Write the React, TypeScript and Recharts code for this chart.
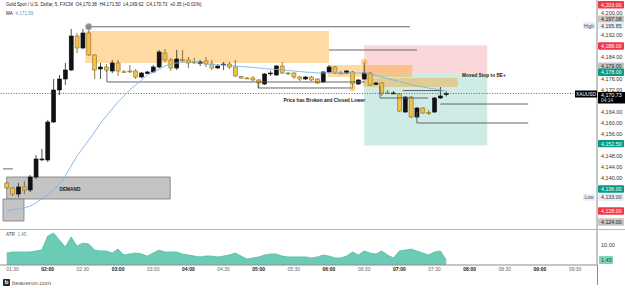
import React from 'react';
import {
  ComposedChart, AreaChart, Bar, Line, Area, XAxis, YAxis,
  ReferenceArea, ReferenceLine, ReferenceDot,
} from 'recharts';

// ---------- data ----------
const timeTicks = [1, 7, 13, 19, 25, 31, 37, 43, 49, 55, 61, 67, 73, 79, 85, 91, 97];
const timeLabels = ['01:30', '02:00', '02:30', '03:00', '03:30', '04:00', '04:30', '05:00', '05:30',
  '06:00', '06:30', '07:00', '07:30', '08:00', '08:30', '09:00', '09:30'];

const opens = [
  4138.18, 4136.36, 4134.18, 4136.73, 4135.64, 4140.36, 4146.6, 4146.55, 4160.36, 4172.0,
  4176.0, 4179.27, 4191.64, 4187.27, 4192.73, 4184.73, 4179.64, 4180.36, 4178.91, 4181.82,
  4178.62, 4178.91, 4178.91, 4176.73, 4178.0, 4178.55, 4180.36, 4185.45, 4182.91, 4180.0,
  4183.1, 4182.91, 4182.18, 4181.64, 4182.55, 4181.45, 4180.0, 4181.27, 4181.45, 4180.36,
  4176.84, 4176.36, 4176.36, 4175.64, 4174.18, 4178.0, 4177.45, 4180.73, 4178.18, 4178.18,
  4176.73, 4176.0, 4176.73, 4176.0, 4174.91, 4178.55, 4180.36, 4178.18, 4178.18, 4178.55,
  4174.18, 4176.0, 4178.18, 4174.07, 4174.55, 4170.98, 4170.84, 4170.55, 4164.0, 4169.45,
  4162.18, 4165.45, 4163.82, 4164.0, 4169.09, 4170.38,
];
const highs = [
  4138.55, 4136.73, 4138.18, 4138.91, 4141.09, 4148.36, 4150.55, 4161.09, 4176.0, 4177.45,
  4181.82, 4194.18, 4192.73, 4194.18, 4195.85, 4185.09, 4181.82, 4181.45, 4182.91, 4182.91,
  4179.27, 4181.09, 4179.64, 4178.55, 4178.91, 4181.09, 4186.55, 4186.91, 4183.64, 4186.55,
  4186.55, 4184.0, 4183.64, 4182.91, 4184.0, 4182.91, 4181.45, 4182.18, 4182.18, 4182.91,
  4177.09, 4176.73, 4177.09, 4176.0, 4178.18, 4178.91, 4181.09, 4182.18, 4178.55, 4178.55,
  4177.09, 4177.09, 4177.09, 4176.36, 4178.91, 4181.09, 4180.73, 4178.91, 4179.27, 4178.91,
  4176.0, 4182.18, 4178.55, 4174.91, 4174.91, 4172.0, 4171.64, 4170.91, 4169.82, 4169.82,
  4165.82, 4165.82, 4164.73, 4169.45, 4173.09, 4171.5,
];
const lows = [
  4136.0, 4133.45, 4133.0, 4134.18, 4134.91, 4139.64, 4146.18, 4145.82, 4160.0, 4170.18,
  4173.82, 4178.91, 4185.45, 4186.91, 4184.36, 4176.0, 4176.0, 4178.55, 4178.18, 4177.09,
  4178.18, 4178.18, 4176.0, 4176.36, 4177.82, 4178.18, 4180.0, 4182.18, 4178.91, 4179.27,
  4182.18, 4180.0, 4181.45, 4180.73, 4180.36, 4179.27, 4179.64, 4179.27, 4179.64, 4176.73,
  4176.0, 4176.0, 4175.27, 4172.73, 4173.82, 4177.09, 4177.09, 4177.82, 4177.45, 4176.0,
  4175.27, 4175.64, 4175.27, 4174.18, 4174.55, 4178.18, 4177.82, 4177.82, 4177.82, 4172.73,
  4173.82, 4175.64, 4173.45, 4173.82, 4169.82, 4170.55, 4170.55, 4164.0, 4163.64, 4161.82,
  4161.82, 4163.27, 4162.91, 4163.64, 4168.73, 4169.62,
];
const closes = [
  4136.36, 4134.18, 4136.73, 4135.64, 4140.36, 4146.91, 4146.91, 4160.36, 4172.0, 4176.0,
  4179.27, 4191.64, 4187.27, 4192.73, 4184.73, 4179.27, 4180.36, 4179.27, 4181.82, 4178.91,
  4178.47, 4178.8, 4176.73, 4178.18, 4178.55, 4180.36, 4185.82, 4182.91, 4180.0, 4183.27,
  4182.91, 4181.82, 4182.07, 4182.18, 4181.45, 4180.0, 4180.73, 4181.45, 4180.36, 4177.09,
  4176.36, 4176.25, 4175.64, 4174.55, 4177.82, 4178.18, 4180.73, 4178.18, 4178.04, 4176.73,
  4176.0, 4176.73, 4175.64, 4174.55, 4178.55, 4180.36, 4178.18, 4178.04, 4178.91, 4174.18,
  4175.64, 4178.18, 4173.82, 4174.55, 4170.91, 4170.84, 4170.91, 4164.36, 4169.45, 4162.18,
  4165.45, 4163.64, 4163.71, 4169.09, 4169.82, 4170.73,
];
const maValues = [
  4128.0, 4128.4, 4128.7, 4129.1, 4129.8, 4130.9, 4132.4, 4133.8, 4135.6, 4137.8,
  4140.7, 4144.4, 4148.0, 4150.9, 4153.8, 4156.7, 4160.0, 4162.5, 4165.1, 4167.6,
  4169.8, 4172.0, 4173.8, 4175.6, 4177.5, 4178.5, 4179.6, 4180.7, 4181.5, 4181.8,
  4182.2, 4182.2, 4182.2, 4181.8, 4181.5, 4181.3, 4181.1, 4181.1, 4180.9, 4180.7,
  4180.5, 4180.4, 4180.2, 4180.0, 4179.8, 4179.6, 4179.5, 4179.3, 4179.1, 4178.9,
  4178.7, 4178.5, 4178.4, 4178.2, 4178.2, 4178.2, 4178.2, 4178.2, 4178.2, 4178.2,
  4178.2, 4178.2, 4177.8, 4177.3, 4176.7, 4176.2, 4175.6, 4175.1, 4174.5, 4174.0,
  4173.5, 4173.1, 4172.7, 4172.4, 4172.0, 4171.59,
];
const atrValues = [
  5.4, 6.0, 6.0, 6.0, 6.0, 6.6, 7.1, 15.1, 16.8, 12.8,
  8.9, 14.6, 9.4, 11.1, 10.6, 7.1, 6.6, 6.6, 5.4, 7.7,
  4.3, 4.9, 5.4, 4.9, 3.7, 5.4, 7.1, 6.0, 6.0, 6.0,
  4.9, 4.3, 3.7, 3.2, 3.7, 3.7, 3.2, 3.7, 4.3, 5.4,
  3.7, 2.0, 2.6, 3.2, 4.3, 4.9, 4.9, 3.7, 3.2, 3.2,
  3.2, 3.2, 2.6, 3.2, 4.3, 3.7, 2.6, 2.6, 3.7, 6.0,
  4.3, 6.6, 5.4, 4.9, 6.6, 4.3, 2.6, 6.6, 7.1, 7.7,
  6.6, 5.4, 4.3, 6.0, 6.6, 1.45,
];

const priceTicks = [4200, 4192, 4184, 4176, 4172, 4164, 4160, 4156, 4148, 4144, 4140];
const priceBadges = [
  { value: 4203, kind: 'red' }, { value: 4197.08, kind: 'grey' }, { value: 4195.85, kind: 'high' },
  { value: 4188, kind: 'red' }, { value: 4179, kind: 'grey' }, { value: 4178, kind: 'green' },
  { value: 4152.5, kind: 'green' }, { value: 4136, kind: 'green' }, { value: 4133, kind: 'low' },
  { value: 4128, kind: 'red' }, { value: 4124, kind: 'grey' }, { value: 4170.73, kind: 'last' },
];
const atrTicks = [10];
const atrLast = 1.45;

// zones: x in bar index, y in price
const zones = [
  { x1: 13.4, x2: 55, y1: 4181.8, y2: 4193.45, kind: 'orange' },
  { x1: 61, x2: 82, y1: 4178, y2: 4188.3, kind: 'stop' },
  { x1: 61, x2: 82, y1: 4151.8, y2: 4178, kind: 'target' },
  { x1: 54.8, x2: 69.2, y1: 4176.73, y2: 4181.09, kind: 'orange' },
  { x1: 60.8, x2: 77, y1: 4173.09, y2: 4176.36, kind: 'orange' },
  { x1: 0, x2: 27.9, y1: 4132.36, y2: 4140.36, kind: 'demand' },
  { x1: -0.63, x2: 2.95, y1: 4124.36, y2: 4132.36, kind: 'demand' },
];
const segments = [
  { x1: 14, y1: 4195.0, x2: 68.8, y2: 4195.0 },
  { x1: 55, y1: 4186.55, x2: 70, y2: 4186.55 },
  { x1: 17.1, y1: 4179.3, x2: 17.1, y2: 4174.91 },
  { x1: 17.1, y1: 4174.91, x2: 61.1, y2: 4174.91 },
  { x1: 42.9, y1: 4174.5, x2: 42.9, y2: 4172.73 },
  { x1: 42.9, y1: 4172.73, x2: 59.1, y2: 4172.73 },
  { x1: 63.7, y1: 4173.45, x2: 63.7, y2: 4169.09 },
  { x1: 63.7, y1: 4169.09, x2: 71.9, y2: 4169.09 },
  { x1: 67.6, y1: 4171.8, x2: 74.5, y2: 4171.8 },
  { x1: 74, y1: 4166.9, x2: 89, y2: 4166.9 },
  { x1: 70, y1: 4164, x2: 70, y2: 4160.0 },
  { x1: 70, y1: 4160.0, x2: 89, y2: 4160.0 },
  { x1: -0.63, y1: 4143.3, x2: 1.07, y2: 4143.3 },
];
const markers = [
  { x: 14, y: 4195.0, kind: 'grey' },
  { x: 59, y: 4172.73, kind: 'orange' },
  { x: 61, y: 4182.18, kind: 'orange' },
];
const notes = [
  { x: 10.8, y: 4136.0, text: 'DEMAND', anchor: 'middle' },
  { x: 54.2, y: 4168.2, text: 'Price has Broken and Closed Lower', anchor: 'middle' },
  { x: 77.7, y: 4177.4, text: 'Moved Stop to BE+', anchor: 'start' },
];
const lastPrice = 4170.73;

// ---------- styles ----------
const FONT = '"Liberation Sans", Arial, sans-serif';
const X_DOMAIN: [number, number] = [-1.14, 100.73];
const Y_DOMAIN: [number, number] = [4121.45, 4204.73];
const ATR_DOMAIN: [number, number] = [-1.4, 19.12];
const UP = '#111111';
const DOWN = '#f4c04c';
const DOWN_EDGE = '#8f7320';
const zoneStyle: Record<string, any> = {
  orange: { fill: '#ff9800', fillOpacity: 0.36, stroke: 'none' },
  stop: { fill: '#f23645', fillOpacity: 0.2, stroke: 'none' },
  target: { fill: '#089981', fillOpacity: 0.2, stroke: 'none' },
  demand: { fill: '#c4c4c4', fillOpacity: 1, stroke: '#7a7a7a', strokeWidth: 0.8 },
};
const badgeStyle: Record<string, { bg: string; fg: string }> = {
  red: { bg: '#f23645', fg: '#ffffff' },
  grey: { bg: '#c6c6c6', fg: '#222222' },
  green: { bg: '#089981', fg: '#ffffff' },
  high: { bg: '#e8eef7', fg: '#333333' },
  low: { bg: '#e8eef7', fg: '#333333' },
  last: { bg: '#000000', fg: '#ffffff' },
};
const badgeShift: Record<string, number> = { '4179': -4.5, '4178': -1.2, '4197.08': -1.8, '4195.85': 1.2 };

const rows = opens.map((o, i) => ({
  i, open: o, high: highs[i], low: lows[i], close: closes[i], ma: maValues[i], atr: atrValues[i],
}));

const fmt = (v: number) => v.toLocaleString('en-US', { minimumFractionDigits: 2, maximumFractionDigits: 2 });

const Candle = (props: any) => {
  const { x, y, width, height, payload } = props;
  if (!payload || height == null) return null;
  const { open, close, high, low } = payload;
  const up = close >= open;
  const ppu = height / (high - low);
  const top = y + (high - Math.max(open, close)) * ppu;
  const h = Math.max(0.9, Math.abs(open - close) * ppu);
  const cx = x + width / 2;
  return (
    <g>
      <line x1={cx} x2={cx} y1={y} y2={y + height} stroke={up ? '#222' : '#6d5a1e'} strokeWidth={0.8} />
      <rect x={x} y={top} width={width} height={h} fill={up ? UP : DOWN}
        stroke={up ? UP : DOWN_EDGE} strokeWidth={0.6} />
    </g>
  );
};

const badgeMap = new Map(priceBadges.map((b) => [b.value, b.kind]));

const PriceTick = (props: any) => {
  const { x, y, payload } = props;
  const v = payload.value as number;
  const kind = badgeMap.get(v);
  if (!kind) {
    return <text x={x + 4} y={y} dy={2} fontSize={5.5} fill="#333" fontFamily={FONT}>{fmt(v)}</text>;
  }
  const s = badgeStyle[kind];
  const yy = y + (badgeShift[String(v)] || 0);
  if (kind === 'last') {
    return (
      <g>
        <rect x={x - 22} y={yy - 3} width={22} height={7} fill="#000" />
        <text x={x - 11} y={yy + 0.5} dy={2} fontSize={4.8} fill="#fff" textAnchor="middle" fontFamily={FONT}>XAUUSD</text>
        <rect x={x + 1} y={yy - 1.5} width={27} height={11.5} fill="#000" />
        <text x={x + 4} y={yy + 1.8} dy={1.8} fontSize={5.3} fill="#fff" fontFamily={FONT}>{fmt(v)}</text>
        <text x={x + 4} y={yy + 6.6} dy={1.6} fontSize={4.8} fill="#ddd" fontFamily={FONT}>04:14</text>
      </g>
    );
  }
  return (
    <g>
      {(kind === 'high' || kind === 'low') && (
        <g>
          <rect x={x - 14} y={yy - 3.5} width={12} height={7} fill={s.bg} rx={1} />
          <text x={x - 8} y={yy} dy={2} fontSize={5} fill="#456" textAnchor="middle" fontFamily={FONT}>
            {kind === 'high' ? 'High' : 'Low'}
          </text>
        </g>
      )}
      <rect x={x + 1} y={yy - 3.7} width={26} height={7.4} fill={s.bg} rx={1} />
      <text x={x + 4} y={yy} dy={2} fontSize={5.3} fill={s.fg} fontFamily={FONT}>{fmt(v)}</text>
    </g>
  );
};

const AtrTick = (props: any) => {
  const { x, y, payload } = props;
  const v = payload.value as number;
  if (v === atrLast) {
    return (
      <g>
        <rect x={x + 2} y={y - 4} width={14} height={8} fill="#7fd3bf" rx={1} />
        <text x={x + 4} y={y} dy={2} fontSize={5.5} fill="#1c4a3f" fontFamily={FONT}>{v.toFixed(2)}</text>
      </g>
    );
  }
  return <text x={x + 4} y={y} dy={2} fontSize={5.5} fill="#333" fontFamily={FONT}>{v.toFixed(2)}</text>;
};

const TimeTick = (props: any) => {
  const { x, y, payload } = props;
  const k = timeTicks.indexOf(payload.value);
  const label = timeLabels[k] ?? '';
  const bold = label.endsWith(':00');
  return (
    <text x={x} y={y + 6} textAnchor="middle" fontSize={5} fontWeight={bold ? 700 : 400}
      fill={bold ? '#222' : '#666'} fontFamily={FONT}>{label}</text>
  );
};

export default function App() {
  return (
    <div style={{ position: 'absolute', left: 0, top: 0, width: 625, height: 288, background: '#fff', fontFamily: FONT }}>
      <div style={{ position: 'absolute', left: 0, top: 0 }}>
        <ComposedChart width={625} height={229} data={rows} margin={{ top: 0, right: 0, bottom: 0, left: 0 }}>
          <XAxis dataKey="i" type="number" domain={X_DOMAIN} hide allowDataOverflow />
          <YAxis orientation="right" width={28} domain={Y_DOMAIN} allowDataOverflow
            ticks={[...priceTicks, ...priceBadges.map((b) => b.value)]} interval={0}
            tick={<PriceTick />} tickSize={0} tickMargin={0} tickLine={false}
            axisLine={{ stroke: '#8c8c8c' }} />
          {zones.map((z, k) => (
            <ReferenceArea key={'z' + k} x1={z.x1} x2={z.x2} y1={z.y1} y2={z.y2} {...zoneStyle[z.kind]} />
          ))}
          <ReferenceLine y={lastPrice} stroke="#444" strokeDasharray="1 1.6" strokeWidth={0.8} />
          {segments.map((s, k) => (
            <ReferenceLine key={'s' + k} segment={[{ x: s.x1, y: s.y1 }, { x: s.x2, y: s.y2 }]}
              stroke="#555" strokeWidth={0.9} />
          ))}
          <Line dataKey="ma" stroke="#7db3e8" strokeWidth={0.9} dot={false} activeDot={false}
            isAnimationActive={false} />
          <Bar dataKey={(d: any) => [d.low, d.high]} barSize={4} shape={<Candle />} activeBar={false}
            isAnimationActive={false} />
          {markers.map((m, k) => (
            <ReferenceDot key={'m' + k} x={m.x} y={m.y} r={3.2}
              fill={m.kind === 'grey' ? '#8a8a8a' : '#ff9800'} fillOpacity={m.kind === 'grey' ? 1 : 0.45}
              stroke={m.kind === 'grey' ? '#bbb' : 'none'} strokeWidth={0.8} />
          ))}
          {notes.map((n, k) => (
            <ReferenceDot key={'n' + k} x={n.x} y={n.y} r={0}
              shape={(p: any) => (
                <text x={p.cx} y={p.cy} dy={1.8} textAnchor={n.anchor as any} fontSize={4.8}
                  fontWeight={700} fill="#222" fontFamily={FONT}>{n.text}</text>
              )} />
          ))}
        </ComposedChart>
      </div>
      <div style={{ position: 'absolute', left: 0, top: 229 }}>
        <AreaChart width={625} height={47} data={rows} margin={{ top: 0, right: 0, bottom: 0, left: 0 }}>
          <XAxis dataKey="i" type="number" domain={X_DOMAIN} allowDataOverflow ticks={timeTicks}
            interval={0} tick={<TimeTick />} tickSize={0} tickMargin={0} tickLine={false} height={11}
            axisLine={{ stroke: '#8c8c8c' }} />
          <YAxis orientation="right" width={28} domain={ATR_DOMAIN} allowDataOverflow
            ticks={[...atrTicks, atrLast]} interval={0} tick={<AtrTick />} tickSize={0} tickMargin={0}
            tickLine={false} axisLine={{ stroke: '#8c8c8c' }} />
          <Area dataKey="atr" type="linear" fill="#6ccbb5" fillOpacity={1} stroke="#52bfa5"
            strokeWidth={0.8} baseValue="dataMin" dot={false} activeDot={false} isAnimationActive={false} />
        </AreaChart>
      </div>
      <div style={{ position: 'absolute', left: 0, top: 228.5, width: 625, height: 1, background: '#b5b5b5' }} />
      <div style={{ position: 'absolute', left: 597, top: 265, width: 1, height: 20, background: '#8c8c8c' }} />
      <div style={{ position: 'absolute', left: 6, top: 2, fontSize: 4.6, color: '#222', whiteSpace: 'nowrap' }}>
        Gold Spot / U.S. Dollar, 5, FXCM&nbsp; O4,170.38&nbsp; H4,171.50&nbsp; L4,169.62&nbsp; C4,170.73&nbsp; +0.35 (+0.01%)
      </div>
      <div style={{ position: 'absolute', left: 6, top: 11, fontSize: 4.6, color: '#222', whiteSpace: 'nowrap' }}>
        MA&nbsp;&nbsp;<span style={{ color: '#5b9bd5' }}>4,171.59</span>
      </div>
      <div style={{ position: 'absolute', left: 6, top: 232, fontSize: 4.6, color: '#444', whiteSpace: 'nowrap' }}>
        ATR&nbsp;&nbsp;<span style={{ color: '#35a88e' }}>1.45</span>
      </div>
      <div style={{ position: 'absolute', left: 3, top: 279, width: 7, height: 7, background: '#1f2a3a', borderRadius: 1,
        color: '#fff', fontSize: 6, fontWeight: 700, lineHeight: '7px', textAlign: 'center' }}>b</div>
      <div style={{ position: 'absolute', left: 12, top: 279, fontSize: 6.2, color: '#555', whiteSpace: 'nowrap', lineHeight: '8px' }}>
        beaveron.com
      </div>
    </div>
  );
}
